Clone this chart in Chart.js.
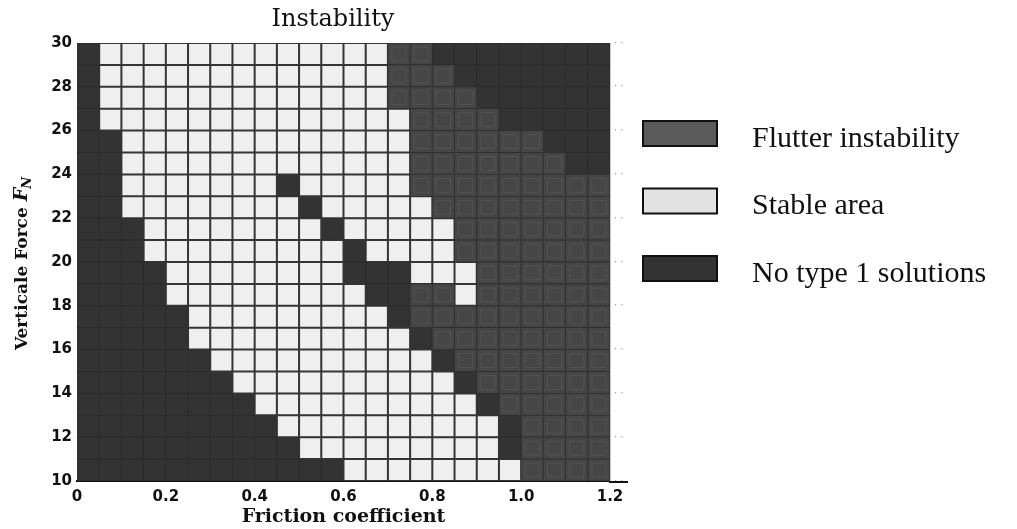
<!DOCTYPE html>
<html>
<head>
<meta charset="utf-8">
<script src="https://cdn.jsdelivr.net/npm/chart.js@4.4.1/dist/chart.umd.min.js"></script>
<style>
  html, body { margin: 0; padding: 0; background: #ffffff; }
  #wrap { width: 1017px; height: 529px; position: relative; }
</style>
</head>
<body>
<div id="wrap"><canvas id="chart" width="1017" height="529"></canvas></div>
<script>
// Friction coefficient bins (left edge of each cell)
const frictionBins = [0, 0.05, 0.1, 0.15, 0.2, 0.25, 0.3, 0.35, 0.4, 0.45, 0.5, 0.55,
                      0.6, 0.65, 0.7, 0.75, 0.8, 0.85, 0.9, 0.95, 1.0, 1.05, 1.1, 1.15];
const frictionBinWidth = 0.05;

// Vertical force bins (lower edge of each row), top row first
const forceBins = [29, 28, 27, 26, 25, 24, 23, 22, 21, 20, 19, 18, 17, 16, 15, 14, 13, 12, 11, 10];
const forceBinHeight = 1;

// Region of each cell, one character per friction bin:
// F = flutter instability, S = stable area, N = no type 1 solutions
const regionRows = [
  'NSSSSSSSSSSSSSFFNNNNNNNN', // 29-30
  'NSSSSSSSSSSSSSFFFNNNNNNN', // 28-29
  'NSSSSSSSSSSSSSFFFFNNNNNN', // 27-28
  'NSSSSSSSSSSSSSSFFFFNNNNN', // 26-27
  'NNSSSSSSSSSSSSSFFFFFFNNN', // 25-26
  'NNSSSSSSSSSSSSSFFFFFFFNN', // 24-25
  'NNSSSSSSSNSSSSSFFFFFFFFF', // 23-24
  'NNSSSSSSSSNSSSSSFFFFFFFF', // 22-23
  'NNNSSSSSSSSNSSSSSFFFFFFF', // 21-22
  'NNNSSSSSSSSSNSSSSFFFFFFF', // 20-21
  'NNNNSSSSSSSSNNNSSSFFFFFF', // 19-20
  'NNNNSSSSSSSSSNNFFSFFFFFF', // 18-19
  'NNNNNSSSSSSSSSNFFFFFFFFF', // 17-18
  'NNNNNSSSSSSSSSSNFFFFFFFF', // 16-17
  'NNNNNNSSSSSSSSSSNFFFFFFF', // 15-16
  'NNNNNNNSSSSSSSSSSNFFFFFF', // 14-15
  'NNNNNNNNSSSSSSSSSSNFFFFF', // 13-14
  'NNNNNNNNNSSSSSSSSSSNFFFF', // 12-13
  'NNNNNNNNNNSSSSSSSSSNFFFF', // 11-12
  'NNNNNNNNNNNNSSSSSSSSFFFF'  // 10-11
];

const regionCodes  = ['F', 'S', 'N'];
const regionLabels = ['Flutter instability', 'Stable area', 'No type 1 solutions'];

const cellFill   = { F: '#464646', S: '#efefef', N: '#333333' };
const cellEdge   = { F: '#2f2f2f', S: '#353535', N: '#2b2b2b' };
const cellEdgeW  = { F: 1, S: 1.6, N: 1 };
const legendFill = { F: '#5b5b5b', S: '#e2e2e2', N: '#333333' };

// One floating-bar dataset per region; each bar spans one force bin
const datasets = regionCodes.map((code, k) => {
  const data = [];
  regionRows.forEach((row, r) => {
    Array.from(row).forEach((ch, c) => {
      if (ch === code) {
        data.push({
          x: frictionBins[c] + frictionBinWidth / 2,
          y: [forceBins[r], forceBins[r] + forceBinHeight]
        });
      }
    });
  });
  return {
    label: regionLabels[k],
    code: code,
    data: data,
    backgroundColor: cellFill[code],
    borderColor: cellEdge[code],
    borderWidth: cellEdgeW[code],
    borderSkipped: false,
    inflateAmount: 0.6,
    grouped: false,
    barPercentage: 1,
    categoryPercentage: 1
  };
});

const serif = '"DejaVu Serif", serif';
const sans = '"DejaVu Sans", sans-serif';

const decorPlugin = {
  id: 'decor',
  afterDatasetsDraw(chart) {
    const ctx = chart.ctx;
    // lighter inner frame on flutter cells
    chart.data.datasets.forEach((ds, i) => {
      if (ds.code !== 'F') return;
      const meta = chart.getDatasetMeta(i);
      ctx.save();
      ctx.strokeStyle = '#525252';
      ctx.lineWidth = 1;
      meta.data.forEach(el => {
        const p = el.getProps(['x', 'y', 'base', 'width'], true);
        const left = p.x - p.width / 2;
        const top = Math.min(p.y, p.base);
        const h = Math.abs(p.base - p.y);
        ctx.strokeRect(left + 4, top + 4, p.width - 8, h - 8);
      });
      ctx.restore();
    });
  },
  afterDraw(chart) {
    const ctx = chart.ctx;
    const area = chart.chartArea;
    ctx.save();

    // extension of the friction axis line
    ctx.strokeStyle = '#111111';
    ctx.lineWidth = 2;
    ctx.beginPath();
    ctx.moveTo(area.right - 1, area.bottom + 1);
    ctx.lineTo(628, area.bottom + 1);
    ctx.stroke();

    // title
    ctx.fillStyle = '#111111';
    ctx.font = '24px ' + serif;
    ctx.textAlign = 'center';
    ctx.textBaseline = 'alphabetic';
    ctx.fillText('Instability', 333, 26);

    // vertical axis title with subscript
    ctx.translate(23, 263);
    ctx.rotate(-Math.PI / 2);
    ctx.textAlign = 'left';
    ctx.textBaseline = 'middle';
    const mainFont = 'bold 17px ' + serif;
    const fFont = 'italic bold 19px ' + serif;
    const subFont = 'italic bold 13px ' + serif;
    const part1 = 'Verticale Force ';
    ctx.font = mainFont; const w1 = ctx.measureText(part1).width;
    ctx.font = fFont;    const w2 = ctx.measureText('F').width;
    ctx.font = subFont;  const w3 = ctx.measureText('N').width;
    let x0 = -(w1 + w2 + w3) / 2;
    ctx.font = mainFont; ctx.fillText(part1, x0, 0);
    ctx.font = fFont;    ctx.fillText('F', x0 + w1, -1);
    ctx.font = subFont;  ctx.fillText('N', x0 + w1 + w2 - 1, 5);
    ctx.restore();

    // legend
    ctx.save();
    const boxX = 643, boxW = 74, boxH = 25;
    const boxTops = [121, 188.5, 256];
    regionCodes.forEach((code, k) => {
      const y = boxTops[k];
      ctx.fillStyle = legendFill[code];
      ctx.fillRect(boxX, y, boxW, boxH);
      ctx.strokeStyle = '#111111';
      ctx.lineWidth = 2;
      ctx.strokeRect(boxX, y, boxW, boxH);
      ctx.fillStyle = '#111111';
      ctx.font = '30px "Liberation Serif", serif';
      ctx.textAlign = 'left';
      ctx.textBaseline = 'alphabetic';
      ctx.fillText(regionLabels[k], 752, y + boxH + 0.5);
    });
    ctx.restore();
  }
};

new Chart(document.getElementById('chart'), {
  type: 'bar',
  data: { datasets: datasets },
  options: {
    responsive: false,
    animation: false,
    events: [],
    layout: { padding: { top: 43, right: 379, bottom: 0, left: 0 } },
    plugins: {
      legend: { display: false },
      tooltip: { enabled: false },
      title: { display: false }
    },
    scales: {
      x: {
        type: 'linear',
        position: 'bottom',
        min: 0,
        max: 1.2,
        offset: false,
        grid: { display: false, drawTicks: false },
        border: { display: true, color: '#111111', width: 2 },
        ticks: {
          stepSize: 0.2,
          padding: 7,
          color: '#111111',
          font: { family: sans, size: 15, weight: 'bold' },
          maxRotation: 0
        },
        title: {
          display: true,
          text: 'Friction coefficient',
          color: '#111111',
          font: { family: serif, size: 19, weight: 'bold' },
          padding: { top: 0, bottom: 1 }
        },
        afterFit(scale) { scale.height = 48; }
      },
      y: {
        type: 'linear',
        position: 'left',
        min: 10,
        max: 30,
        grid: { display: false, drawTicks: false },
        border: { display: false },
        ticks: {
          stepSize: 2,
          padding: 5,
          color: '#111111',
          font: { family: sans, size: 15, weight: 'bold' }
        },
        afterFit(scale) { scale.width = 77; }
      },
      y2: {
        type: 'linear',
        position: 'right',
        min: 10,
        max: 30,
        grid: { display: false, drawTicks: false },
        border: { display: true, color: '#c8c8c8', width: 1 },
        ticks: {
          stepSize: 2,
          padding: 4,
          color: '#9a9a9a',
          font: { family: sans, size: 10 },
          callback: () => '· ·'
        },
        afterFit(scale) { scale.width = 28; }
      }
    }
  },
  plugins: [decorPlugin]
});
</script>
</body>
</html>
